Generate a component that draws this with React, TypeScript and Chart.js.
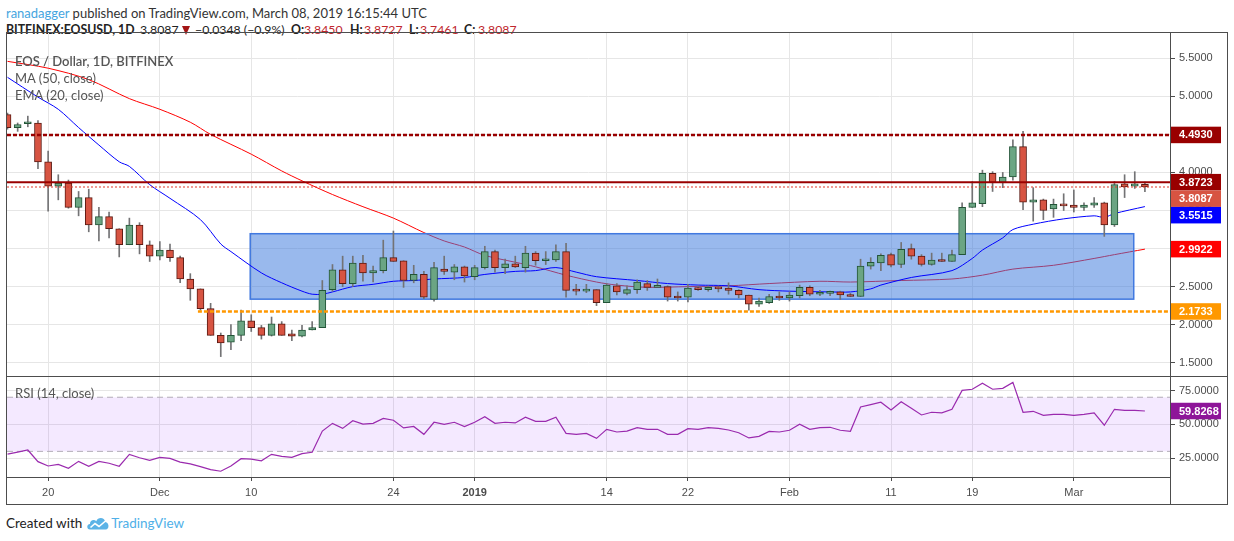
import React, { useEffect, useRef } from "react";
import { Chart, registerables } from "chart.js";

Chart.register(...registerables);

// ---------------- data (day index 0 = 2018-11-16 ... 112 = 2019-03-08) ----------------
const OPEN = [
  4.76, 4.59, 4.64, 4.65, 4.14, 3.82, 3.86, 3.54, 3.67, 3.31,
  3.42, 3.26, 3.05, 3.31, 3.05, 2.90, 2.98, 2.88, 2.60, 2.47,
  2.21, 1.86, 1.77, 1.86, 2.05, 1.96, 1.86, 2.01, 1.88, 1.85,
  1.93, 1.96, 2.46, 2.72, 2.54, 2.81, 2.68, 2.71, 2.88, 2.84,
  2.58, 2.66, 2.33, 2.73, 2.69, 2.76, 2.63, 2.75, 2.96, 2.75,
  2.80, 2.75, 2.94, 2.84, 2.85, 2.96, 2.46, 2.44, 2.46, 2.29,
  2.51, 2.41, 2.46, 2.54, 2.49, 2.50, 2.36, 2.36, 2.48, 2.46,
  2.49, 2.48, 2.45, 2.39, 2.27, 2.29, 2.37, 2.35, 2.38, 2.49,
  2.40, 2.41, 2.43, 2.39, 2.37, 2.77, 2.81, 2.92, 2.79, 3.00,
  2.90, 2.79, 2.85, 2.83, 2.92, 3.54, 3.59, 3.99, 3.87, 3.94,
  4.34, 3.61, 3.64, 3.52, 3.58, 3.57, 3.54, 3.57, 3.60, 3.31,
  3.85, 3.82, 3.845,
];
const HIGH = [
  4.78, 4.65, 4.74, 4.68, 4.28, 3.97, 3.90, 3.75, 3.78, 3.54,
  3.48, 3.26, 3.40, 3.34, 3.10, 3.09, 3.06, 2.90, 2.67, 2.47,
  2.28, 1.89, 2.00, 2.19, 2.13, 1.99, 2.10, 2.04, 1.93, 1.99,
  2.04, 2.58, 2.79, 2.90, 2.90, 2.91, 2.77, 3.11, 3.23, 2.84,
  2.78, 2.70, 2.82, 2.90, 2.79, 2.77, 2.78, 3.03, 2.98, 2.86,
  2.90, 3.03, 2.96, 2.96, 3.05, 3.07, 2.53, 2.53, 2.46, 2.54,
  2.54, 2.51, 2.59, 2.58, 2.60, 2.51, 2.43, 2.53, 2.51, 2.51,
  2.51, 2.55, 2.46, 2.39, 2.35, 2.40, 2.43, 2.43, 2.52, 2.51,
  2.45, 2.44, 2.44, 2.41, 2.86, 2.88, 2.93, 2.94, 3.08, 3.06,
  2.92, 2.94, 2.94, 2.98, 3.60, 3.88, 4.03, 4.01, 4.00, 4.43,
  4.54, 3.80, 3.65, 3.65, 3.72, 3.77, 3.60, 3.67, 3.61, 3.88,
  3.97, 4.01, 3.8727,
];
const LOW = [
  4.57, 4.54, 4.60, 4.05, 3.49, 3.64, 3.53, 3.43, 3.22, 3.10,
  3.14, 2.89, 3.05, 2.93, 2.83, 2.85, 2.83, 2.55, 2.32, 2.19,
  1.86, 1.58, 1.67, 1.79, 1.91, 1.81, 1.85, 1.86, 1.79, 1.84,
  1.93, 1.96, 2.44, 2.50, 2.50, 2.57, 2.56, 2.68, 2.83, 2.49,
  2.55, 2.34, 2.31, 2.66, 2.59, 2.56, 2.59, 2.73, 2.69, 2.67,
  2.75, 2.69, 2.78, 2.79, 2.83, 2.36, 2.39, 2.42, 2.25, 2.29,
  2.39, 2.39, 2.41, 2.45, 2.49, 2.31, 2.31, 2.30, 2.45, 2.44,
  2.43, 2.40, 2.35, 2.19, 2.24, 2.28, 2.32, 2.31, 2.35, 2.38,
  2.38, 2.38, 2.33, 2.37, 2.37, 2.73, 2.71, 2.76, 2.75, 2.86,
  2.77, 2.78, 2.83, 2.83, 2.92, 3.54, 3.55, 3.75, 3.80, 3.90,
  3.51, 3.36, 3.38, 3.41, 3.50, 3.48, 3.50, 3.54, 3.16, 3.29,
  3.67, 3.79, 3.7461,
];
const CLOSE = [
  4.59, 4.63, 4.66, 4.14, 3.82, 3.86, 3.54, 3.67, 3.31, 3.42,
  3.26, 3.05, 3.31, 3.05, 2.90, 2.98, 2.88, 2.60, 2.47, 2.21,
  1.86, 1.76, 1.86, 2.05, 1.96, 1.86, 2.01, 1.86, 1.85, 1.93,
  1.96, 2.45, 2.72, 2.54, 2.81, 2.68, 2.71, 2.88, 2.83, 2.58,
  2.66, 2.36, 2.75, 2.70, 2.76, 2.64, 2.75, 2.96, 2.75, 2.80,
  2.76, 2.94, 2.84, 2.86, 2.96, 2.45, 2.44, 2.46, 2.29, 2.52,
  2.43, 2.46, 2.56, 2.49, 2.50, 2.36, 2.35, 2.48, 2.46, 2.49,
  2.47, 2.45, 2.39, 2.27, 2.31, 2.37, 2.35, 2.39, 2.49, 2.40,
  2.41, 2.43, 2.39, 2.37, 2.77, 2.82, 2.91, 2.78, 2.99, 2.90,
  2.79, 2.85, 2.83, 2.92, 3.54, 3.60, 3.99, 3.87, 3.94, 4.34,
  3.61, 3.64, 3.50, 3.58, 3.56, 3.54, 3.57, 3.60, 3.31, 3.84,
  3.81, 3.85, 3.8087,
];
const RSI = [
  28.0, 29.5, 31.0, 22.4, 19.2, 20.4, 17.5, 22.6, 19.0, 22.6,
  21.2, 19.0, 27.8, 25.3, 23.4, 25.6, 24.8, 22.1, 20.7, 18.7,
  16.5, 15.3, 19.2, 24.6, 24.2, 23.0, 27.8, 26.3, 25.6, 28.3,
  29.3, 45.0, 50.7, 47.0, 52.7, 50.2, 50.7, 54.4, 53.0, 47.3,
  48.4, 42.6, 51.5, 50.0, 51.5, 48.3, 51.5, 55.6, 50.7, 51.5,
  51.0, 55.2, 52.2, 52.2, 55.2, 43.3, 42.6, 43.3, 39.6, 46.3,
  44.3, 45.0, 47.5, 46.3, 46.3, 42.6, 42.6, 46.8, 46.3, 47.5,
  47.0, 45.8, 43.8, 39.9, 41.1, 44.8, 44.3, 45.6, 50.0, 46.3,
  47.6, 47.8, 45.6, 44.8, 62.8, 64.5, 66.3, 60.6, 66.7, 61.8,
  56.9, 58.9, 58.4, 61.1, 75.1, 75.9, 80.3, 75.9, 76.6, 81.0,
  58.9, 59.6, 56.6, 57.4, 57.4, 56.6, 57.4, 58.4, 49.3, 61.1,
  60.3, 60.3, 59.8268,
];
const MA50_DAYS = [0, 4, 8, 12, 15, 18, 20, 24, 27, 29, 32, 35, 38, 41, 43, 45, 47, 50, 52, 55, 58, 60, 63, 67, 71, 75, 80, 83, 88, 93, 96, 99, 103, 107, 109, 112];
const MA50_VALUES = [5.46, 5.37, 5.22, 4.97, 4.83, 4.66, 4.50, 4.24, 4.02, 3.89, 3.71, 3.55, 3.40, 3.21, 3.10, 3.02, 2.91, 2.82, 2.76, 2.65, 2.56, 2.52, 2.49, 2.50, 2.51, 2.54, 2.57, 2.56, 2.58, 2.60, 2.65, 2.73, 2.78, 2.87, 2.92, 2.9922];
const EMA20_DAYS = [0, 3, 5, 7, 9, 11, 12, 14, 16, 19, 21, 22, 25, 27, 29, 30, 31, 32, 34, 36, 38, 40, 42, 45, 47, 50, 52, 54, 56, 58, 62, 65, 68, 71, 74, 77, 81, 83, 85, 86, 89, 93, 95, 96, 98, 99, 101, 104, 107, 108, 109, 112];
const EMA20_VALUES = [5.25, 4.99, 4.83, 4.59, 4.36, 4.14, 4.08, 3.84, 3.66, 3.38, 3.06, 2.96, 2.68, 2.55, 2.44, 2.40, 2.40, 2.43, 2.50, 2.53, 2.57, 2.58, 2.60, 2.62, 2.66, 2.70, 2.71, 2.75, 2.69, 2.63, 2.58, 2.54, 2.52, 2.51, 2.46, 2.44, 2.43, 2.43, 2.47, 2.52, 2.62, 2.71, 2.87, 2.98, 3.14, 3.25, 3.32, 3.39, 3.43, 3.41, 3.46, 3.5515];

const PRICE_TICKS = [1.5, 2.0, 2.5, 3.0, 3.5, 4.0, 4.5, 5.0, 5.5];
const RSI_TICKS = [25, 50, 75];
const DATE_TICK_DAYS = [4, 15, 24, 38, 46, 59, 67, 77, 87, 95, 105];
const DATE_TICK_LABELS = ["20", "Dec", "10", "24", "2019", "14", "22", "Feb", "11", "19", "Mar"];
const BOLD_TICK_DAY = 46;

const RESISTANCE_TOP = 4.493;
const RESISTANCE = 3.8723;
const SUPPORT = 2.1733;
const SUPPORT_FROM_DAY = 18.75;
const LAST_PRICE = 3.8087;
const ZONE_TOP = 3.195;
const ZONE_BOTTOM = 2.335;
const ZONE_FROM_DAY = 23.9;
const ZONE_TO_DAY = 110.9;
const RSI_UPPER = 70;
const RSI_LOWER = 30;

// axis windows
const X_MIN = -0.05;
const X_MAX = 114.47;
const PRICE_MIN = 1.3252;
const PRICE_MAX = 5.8456;
const RSI_MIN = 11.05;
const RSI_MAX = 85.7;

// ---------------- styles ----------------
const UP = "#6ba583";
const DOWN = "#d75442";
const UP_BORDER = "#225437";
const DOWN_BORDER = "#5b1a13";
const WICK = "#737375";
const GRID = "#e6e6e6";
const FRAME = "#4d4d4d";
const AXIS_TEXT = "#4c4c4c";
const AXIS_FONT = '"Liberation Sans", Arial, sans-serif';
const AXIS_W = 57;
const TAG_W = 51;
const TAG_H = 16.5;

type Tag = { y: number; text: string; bg: string };

function drawTags(ctx: CanvasRenderingContext2D, left: number, tags: Tag[]) {
  const list = tags.slice().sort((a, b) => a.y - b.y);
  let prevBottom = -Infinity;
  ctx.save();
  ctx.font = "bold 11px " + AXIS_FONT;
  ctx.textBaseline = "middle";
  ctx.textAlign = "left";
  for (const t of list) {
    let cy = t.y;
    if (cy - TAG_H / 2 < prevBottom) cy = prevBottom + TAG_H / 2;
    prevBottom = cy + TAG_H / 2;
    ctx.fillStyle = t.bg;
    ctx.fillRect(left, cy - TAG_H / 2, TAG_W, TAG_H);
    ctx.fillStyle = "#ffffff";
    ctx.fillText(t.text, left + 9, cy + 0.5);
  }
  ctx.restore();
}

function hLine(ctx: CanvasRenderingContext2D, x0: number, x1: number, y: number, color: string, width: number, dash: number[]) {
  ctx.save();
  ctx.strokeStyle = color;
  ctx.lineWidth = width;
  ctx.setLineDash(dash);
  ctx.beginPath();
  ctx.moveTo(x0, y);
  ctx.lineTo(x1, y);
  ctx.stroke();
  ctx.restore();
}

const mainOverlay = {
  id: "mainOverlay",
  afterDatasetDraw(chart: any, args: any) {
    if (args.index !== 0) return;
    const { ctx, chartArea: a, scales } = chart;
    const x0 = scales.x.getPixelForValue(ZONE_FROM_DAY);
    const x1 = scales.x.getPixelForValue(ZONE_TO_DAY);
    const y0 = scales.y.getPixelForValue(ZONE_TOP);
    const y1 = scales.y.getPixelForValue(ZONE_BOTTOM);
    ctx.save();
    ctx.beginPath();
    ctx.rect(a.left, a.top, a.right - a.left, a.bottom - a.top);
    ctx.clip();
    ctx.fillStyle = "rgba(60,120,220,0.52)";
    ctx.fillRect(x0, y0, x1 - x0, y1 - y0);
    ctx.strokeStyle = "#4179e0";
    ctx.lineWidth = 1.5;
    ctx.strokeRect(x0, y0, x1 - x0, y1 - y0);
    ctx.restore();
  },
  afterDatasetsDraw(chart: any) {
    const { ctx, chartArea: a, scales } = chart;
    const y = scales.y;
    ctx.save();
    ctx.beginPath();
    ctx.rect(a.left, a.top, a.right - a.left, a.bottom - a.top);
    ctx.clip();
    hLine(ctx, a.left, a.right, y.getPixelForValue(RESISTANCE_TOP), "#990000", 2.5, [4, 2]);
    hLine(ctx, a.left, a.right, y.getPixelForValue(RESISTANCE), "#990000", 2, []);
    hLine(ctx, a.left, a.right, y.getPixelForValue(LAST_PRICE), "#e0392b", 1, [2, 2]);
    hLine(ctx, scales.x.getPixelForValue(SUPPORT_FROM_DAY), a.right, y.getPixelForValue(SUPPORT), "#ff9800", 2.5, [4, 2]);
    ctx.restore();
  },
  afterDraw(chart: any) {
    const { ctx, chartArea: a, scales } = chart;
    const y = scales.y;
    drawTags(ctx, a.right, [
      { y: y.getPixelForValue(RESISTANCE_TOP), text: RESISTANCE_TOP.toFixed(4), bg: "#990000" },
      { y: y.getPixelForValue(RESISTANCE), text: RESISTANCE.toFixed(4), bg: "#990000" },
      { y: y.getPixelForValue(LAST_PRICE), text: LAST_PRICE.toFixed(4), bg: DOWN },
      { y: y.getPixelForValue(EMA20_VALUES[EMA20_VALUES.length - 1]), text: EMA20_VALUES[EMA20_VALUES.length - 1].toFixed(4), bg: "#0000ff" },
      { y: y.getPixelForValue(MA50_VALUES[MA50_VALUES.length - 1]), text: MA50_VALUES[MA50_VALUES.length - 1].toFixed(4), bg: "#ff0000" },
      { y: y.getPixelForValue(SUPPORT), text: SUPPORT.toFixed(4), bg: "#ff9800" },
    ]);
  },
};

const rsiOverlay = {
  id: "rsiOverlay",
  beforeDatasetsDraw(chart: any) {
    const { ctx, chartArea: a, scales } = chart;
    const yU = scales.y.getPixelForValue(RSI_UPPER);
    const yL = scales.y.getPixelForValue(RSI_LOWER);
    ctx.save();
    ctx.fillStyle = "rgba(149,40,255,0.1)";
    ctx.fillRect(a.left, yU, a.right - a.left, yL - yU);
    hLine(ctx, a.left, a.right, yU, "#b3adb8", 1, [6, 4]);
    hLine(ctx, a.left, a.right, yL, "#b3adb8", 1, [6, 4]);
    ctx.restore();
  },
  afterDraw(chart: any) {
    const { ctx, chartArea: a, scales } = chart;
    const last = RSI[RSI.length - 1];
    drawTags(ctx, a.right, [{ y: scales.y.getPixelForValue(last), text: last.toFixed(4), bg: "#8e1599" }]);
  },
};

function zeroPad(s: any) {
  s.paddingTop = 0;
  s.paddingBottom = 0;
  s.paddingLeft = 0;
  s.paddingRight = 0;
}

function dateScale(showLabels: boolean): any {
  return {
    type: "linear",
    min: X_MIN,
    max: X_MAX,
    offset: false,
    afterBuildTicks: (s: any) => {
      s.ticks = DATE_TICK_DAYS.map((v) => ({ value: v }));
    },
    afterFit: (s: any) => {
      s.height = showLabels ? 27 : 0;
      zeroPad(s);
    },
    grid: { offset: false, color: GRID, drawTicks: showLabels, tickLength: 4, tickColor: FRAME },
    border: { display: showLabels, color: FRAME, width: 1 },
    ticks: {
      display: showLabels,
      autoSkip: false,
      maxRotation: 0,
      padding: 5,
      color: AXIS_TEXT,
      font: (c: any) => ({ family: AXIS_FONT, size: 11, weight: c.tick && c.tick.value === BOLD_TICK_DAY ? "bold" : "normal" }),
      callback: (_v: any, i: number) => DATE_TICK_LABELS[i],
    },
  };
}

function valueScale(min: number, max: number, ticks: number[]): any {
  return {
    position: "right",
    min,
    max,
    afterBuildTicks: (s: any) => {
      s.ticks = ticks.map((v) => ({ value: v }));
    },
    afterFit: (s: any) => {
      s.width = AXIS_W;
      zeroPad(s);
    },
    grid: { color: GRID, tickColor: FRAME, tickLength: 5 },
    border: { color: FRAME, width: 1 },
    ticks: {
      padding: 4,
      color: AXIS_TEXT,
      font: { family: AXIS_FONT, size: 11 },
      callback: (v: any) => Number(v).toFixed(4),
    },
  };
}

function buildMain(canvas: HTMLCanvasElement) {
  const idx = CLOSE.map((_, i) => i);
  const up = idx.map((i) => CLOSE[i] >= OPEN[i]);
  return new Chart(canvas, {
    type: "bar",
    data: {
      datasets: [
        {
          type: "line",
          label: "MA (50, close)",
          data: MA50_DAYS.map((d, k) => ({ x: d, y: MA50_VALUES[k] })),
          borderColor: "#ff0000",
          borderWidth: 1,
          pointRadius: 0,
          tension: 0.3,
          order: 5,
        } as any,
        {
          type: "line",
          label: "EMA (20, close)",
          data: EMA20_DAYS.map((d, k) => ({ x: d, y: EMA20_VALUES[k] })),
          borderColor: "#0000ff",
          borderWidth: 1,
          pointRadius: 0,
          tension: 0.3,
          order: 4,
        } as any,
        {
          type: "bar",
          label: "wick",
          data: idx.map((i) => ({ x: i, y: [LOW[i], HIGH[i]] })),
          backgroundColor: WICK,
          barThickness: 1,
          grouped: false,
          order: 3,
        } as any,
        {
          type: "bar",
          label: "body",
          data: idx.map((i) => ({ x: i, y: [OPEN[i], CLOSE[i]] })),
          backgroundColor: idx.map((i) => (up[i] ? UP : DOWN)),
          borderColor: idx.map((i) => (up[i] ? UP_BORDER : DOWN_BORDER)),
          borderWidth: 1,
          borderSkipped: false,
          barThickness: 7,
          minBarLength: 2,
          grouped: false,
          order: 2,
        } as any,
      ],
    },
    options: {
      responsive: false,
      animation: false,
      events: [],
      layout: { padding: 0 },
      plugins: { legend: { display: false }, tooltip: { enabled: false } },
      scales: {
        x: dateScale(false),
        y: valueScale(PRICE_MIN, PRICE_MAX, PRICE_TICKS),
      },
    } as any,
    plugins: [mainOverlay],
  });
}

function buildRsi(canvas: HTMLCanvasElement) {
  return new Chart(canvas, {
    type: "line",
    data: {
      datasets: [
        {
          label: "RSI (14, close)",
          data: RSI.map((v, i) => ({ x: i, y: v })),
          borderColor: "#9a2aae",
          borderWidth: 1.2,
          pointRadius: 0,
          tension: 0,
        },
      ],
    },
    options: {
      responsive: false,
      animation: false,
      events: [],
      layout: { padding: 0 },
      plugins: { legend: { display: false }, tooltip: { enabled: false } },
      scales: {
        x: dateScale(true),
        y: valueScale(RSI_MIN, RSI_MAX, RSI_TICKS),
      },
    } as any,
    plugins: [rsiOverlay],
  });
}

const TEXT_FONT = 'Lato, "Open Sans", "Noto Sans", sans-serif';
const RED_TXT = "#c0272d";

export default function App() {
  const mainRef = useRef<HTMLCanvasElement>(null);
  const rsiRef = useRef<HTMLCanvasElement>(null);

  useEffect(() => {
    const c1 = buildMain(mainRef.current as HTMLCanvasElement);
    const c2 = buildRsi(rsiRef.current as HTMLCanvasElement);
    return () => {
      c1.destroy();
      c2.destroy();
    };
  }, []);

  const abs = (l: number, t: number, extra: any = {}): any => ({ position: "absolute", left: l, top: t, whiteSpace: "nowrap", ...extra });
  const paneText: any = { fontSize: 13, lineHeight: "16px", color: "#555" };
  const seg = (l: number, extra: any = {}): any => ({ position: "absolute", left: l, top: 0, whiteSpace: "nowrap", ...extra });

  return (
    <div style={{ position: "fixed", left: 0, top: 0, width: 1234, height: 541, background: "#fff", overflow: "hidden", fontFamily: TEXT_FONT }}>
      <div style={abs(6, 4, { fontSize: 13, lineHeight: "18px", color: "#333" })}>
        <span style={{ color: "#45a5e0" }}>ranadagger</span> published on TradingView.com, March 08, 2019 16:15:44 UTC
      </div>
      <div style={abs(0, 21, { fontSize: 12.3, lineHeight: "18px", color: "#222", width: 560, height: 18 })}>
        <b style={seg(6)}>BITFINEX:EOSUSD, 1D</b>
        <span style={seg(140)}>3.8087</span>
        <span style={seg(182, { top: 5, width: 0, height: 0, borderLeft: "4px solid transparent", borderRight: "4px solid transparent", borderTop: "9px solid #a31515" })} />
        <span style={seg(195)}>−0.0348 (−0.9%)</span>
        <b style={seg(291)}>O:</b>
        <span style={seg(304, { color: RED_TXT })}>3.8450</span>
        <b style={seg(350)}>H:</b>
        <span style={seg(364, { color: RED_TXT })}>3.8727</span>
        <b style={seg(409)}>L:</b>
        <span style={seg(420, { color: RED_TXT })}>3.7461</span>
        <b style={seg(464)}>C:</b>
        <span style={seg(478, { color: RED_TXT })}>3.8087</span>
      </div>

      <canvas ref={mainRef} width={1220} height={344} style={{ position: "absolute", left: 7, top: 32, width: 1220, height: 344 }} />
      <canvas ref={rsiRef} width={1220} height={128} style={{ position: "absolute", left: 7, top: 376, width: 1220, height: 128 }} />

      {/* frame */}
      <div style={{ position: "absolute", left: 6, top: 32, width: 1222, height: 473, border: "1px solid " + FRAME, boxSizing: "border-box" }} />
      <div style={{ position: "absolute", left: 6, top: 376, width: 1222, height: 1, background: FRAME }} />
      <div style={{ position: "absolute", left: 1170, top: 32, width: 1, height: 473, background: FRAME }} />

      <div style={abs(15, 53, { ...paneText, fontWeight: 600 })}>EOS / Dollar, 1D, BITFINEX</div>
      <div style={abs(15, 70, paneText)}>MA (50, close)</div>
      <div style={abs(15, 87, paneText)}>EMA (20, close)</div>
      <div style={abs(15, 385, paneText)}>RSI (14, close)</div>

      <div style={abs(6, 514, { fontSize: 13.5, lineHeight: "18px", color: "#222", display: "flex", alignItems: "center" })}>
        <span>Created with</span>
        <svg width="24" height="14" viewBox="0 0 24 14" style={{ margin: "0 1px 0 4px" }}>
          <path d="M4 13.5 C0.5 13.5 0.3 8.2 4 8 C3.8 4.2 8.2 3 10.3 5.2 C11.8 0.8 18.6 1 19.3 6 C23.2 6.2 23.8 13.5 19.6 13.5 Z" fill="#5cb3e6" />
          <polyline points="4.5,11.5 9,7.5 13,10.5 19.5,5" stroke="#ffffff" strokeWidth="1.6" fill="none" />
        </svg>
        <span style={{ color: "#4fb0e8" }}>TradingView</span>
      </div>
    </div>
  );
}
